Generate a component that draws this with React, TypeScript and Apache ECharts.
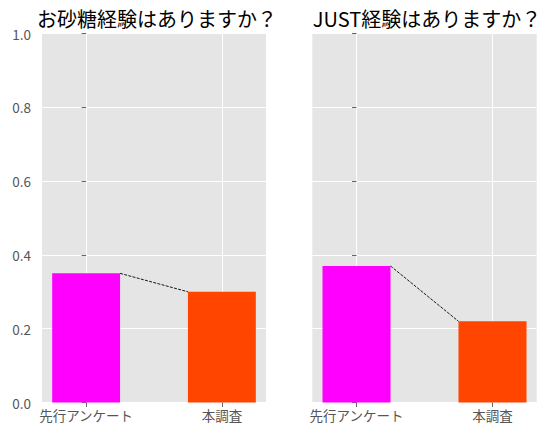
import React, { useEffect, useRef } from "react";
import * as echarts from "echarts";

const categories = ["先行アンケート", "本調査"];
const titles = ["お砂糖経験はありますか？", "JUST経験はありますか？"];
const sugarValues = [0.35, 0.30];
const justValues = [0.37, 0.22];
const barColors = ["#FF00FF", "#FF4500"];
const BAR_WIDTH = 0.5;

const FONT = "'Noto Sans CJK JP', 'Noto Sans', sans-serif";

export default function App() {
  const ref = useRef<HTMLDivElement>(null);
  useEffect(() => {
    if (!ref.current) return;
    const chart = echarts.init(ref.current, null, { renderer: "svg" });
    const panels = [sugarValues, justValues];
    const grids = [
      { left: 42, top: 33.5, width: 224, height: 369 },
      { left: 312.3, top: 33.5, width: 224.4, height: 369 },
    ];
    const xAxes: any[] = [];
    const yAxes: any[] = [];
    const series: any[] = [];
    panels.forEach((vals, i) => {
      xAxes.push({
        type: "value",
        gridIndex: i,
        min: -0.325,
        max: 1.325,
        axisLine: { show: false },
        axisTick: {
          show: true,
          inside: false,
          length: 4.5,
          customValues: [0, 1],
          lineStyle: { color: "#555555", width: 0.9 },
        },
        axisLabel: {
          customValues: [0, 1],
          formatter: (v: number) => categories[Math.round(v)] ?? "",
          color: "#555555",
          fontSize: 13.5,
          fontFamily: FONT,
          margin: 6,
        },
        splitLine: { show: true, lineStyle: { color: "#ffffff", width: 1 } },
      });
      yAxes.push({
        type: "value",
        gridIndex: i,
        min: 0,
        max: 1,
        interval: 0.2,
        axisLine: { show: false },
        axisTick: {
          show: true,
          inside: false,
          length: 4.5,
          lineStyle: { color: "#555555", width: 0.9 },
        },
        axisLabel: {
          show: i === 0,
          formatter: (v: number) => v.toFixed(1),
          color: "#555555",
          fontSize: 13.5,
          fontFamily: FONT,
          margin: 11,
        },
        splitLine: { show: true, lineStyle: { color: "#ffffff", width: 1 } },
      });
      series.push({
        type: "custom",
        xAxisIndex: i,
        yAxisIndex: i,
        data: vals.map((v, k) => [k, v]),
        renderItem: (params: any, api: any) => {
          const x = api.value(0);
          const y = api.value(1);
          const p0 = api.coord([x - BAR_WIDTH / 2, y]);
          const p1 = api.coord([x + BAR_WIDTH / 2, 0]);
          return {
            type: "rect",
            shape: { x: p0[0], y: p0[1], width: p1[0] - p0[0], height: p1[1] - p0[1] },
            style: { fill: barColors[params.dataIndex] },
          };
        },
        z: 2,
      });
      series.push({
        type: "line",
        xAxisIndex: i,
        yAxisIndex: i,
        data: [
          [BAR_WIDTH / 2, vals[0]],
          [1 - BAR_WIDTH / 2, vals[1]],
        ],
        symbol: "none",
        lineStyle: { color: "#000000", width: 0.9, type: [3, 1.3] },
        z: 3,
      });
    });
    chart.setOption({
      animation: false,
      backgroundColor: "#ffffff",
      textStyle: { fontFamily: FONT },
      title: [
        {
          text: titles[0],
          left: 152,
          top: 3,
          textAlign: "center",
          textStyle: { fontSize: 20, fontWeight: "normal", color: "#000000", fontFamily: FONT },
        },
        {
          text: titles[1],
          left: 422,
          top: 3,
          textAlign: "center",
          textStyle: { fontSize: 20, fontWeight: "normal", color: "#000000", fontFamily: FONT },
        },
      ],
      grid: grids.map((g) => ({
        ...g,
        show: true,
        backgroundColor: "#E5E5E5",
        borderWidth: 0,
      })),
      xAxis: xAxes,
      yAxis: yAxes,
      series,
    });
    return () => chart.dispose();
  }, []);
  return (
    <div
      ref={ref}
      style={{ position: "fixed", left: 0, top: 0, width: 547, height: 436 }}
    />
  );
}
